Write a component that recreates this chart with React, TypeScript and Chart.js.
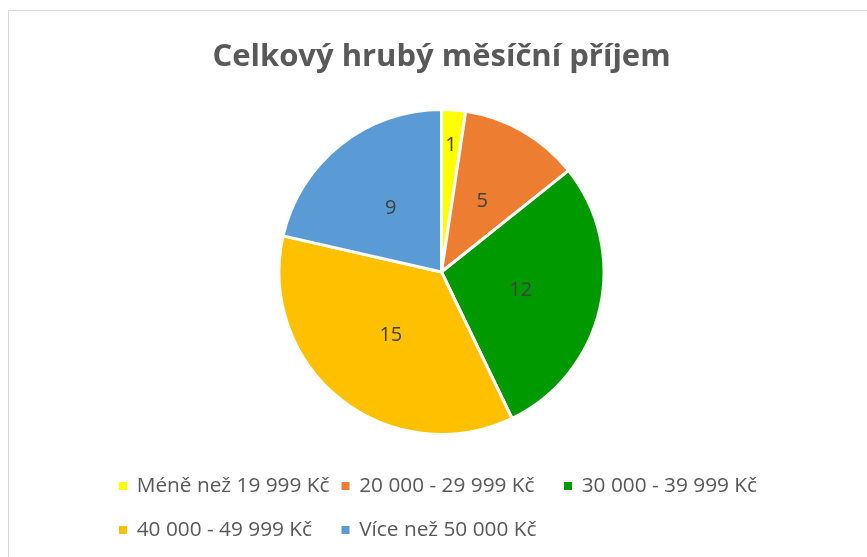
import React, { useEffect, useRef } from "react";
import { Chart, registerables } from "chart.js";

Chart.register(...registerables);

const chartTitle = "Celkový hrubý měsíční příjem";
const categories = [
  "Méně než 19 999 Kč",
  "20 000 - 29 999 Kč",
  "30 000 - 39 999 Kč",
  "40 000 - 49 999 Kč",
  "Více než 50 000 Kč",
];
const counts = [1, 5, 12, 15, 9];
const sliceColors = ["#FFFF00", "#ED7D31", "#009A00", "#FFC000", "#5B9BD5"];

const FONT = "'Open Sans', 'DejaVu Sans', sans-serif";

const sliceLabels = {
  id: "sliceLabels",
  afterDatasetsDraw(chart: any) {
    const ctx = chart.ctx;
    const meta = chart.getDatasetMeta(0);
    const values = chart.data.datasets[0].data;
    ctx.save();
    ctx.font = `20px ${FONT}`;
    ctx.fillStyle = "#404040";
    ctx.textAlign = "center";
    ctx.textBaseline = "middle";
    meta.data.forEach((arc: any, i: number) => {
      const p = arc.getProps(["x", "y", "startAngle", "endAngle", "outerRadius"], true);
      const span = p.endAngle - p.startAngle;
      const mid = (p.startAngle + p.endAngle) / 2;
      const frac = span < 0.3 ? 0.78 : 0.5;
      const r = p.outerRadius * frac;
      ctx.fillText(String(values[i]), p.x + Math.cos(mid) * r, p.y + Math.sin(mid) * r);
    });
    ctx.restore();
  },
};

const gridLegend = {
  id: "gridLegend",
  afterDraw(chart: any) {
    const ctx = chart.ctx;
    const labels = chart.data.labels as string[];
    const colors = chart.data.datasets[0].backgroundColor as string[];
    const cols = 3;
    const x0 = 110;
    const colW = 222.5;
    const y0 = 475;
    const rowH = 44;
    ctx.save();
    ctx.font = `20.8px ${FONT}`;
    ctx.textBaseline = "middle";
    ctx.textAlign = "left";
    labels.forEach((lab, i) => {
      const c = i % cols;
      const r = Math.floor(i / cols);
      const x = x0 + c * colW;
      const y = y0 + r * rowH;
      ctx.fillStyle = colors[i];
      ctx.fillRect(x, y - 4, 8, 8);
      ctx.fillStyle = "#595959";
      ctx.fillText(lab, x + 17.7, y);
    });
    ctx.restore();
  },
};

export default function App() {
  const ref = useRef<HTMLCanvasElement | null>(null);

  useEffect(() => {
    document.body.style.overflow = "hidden";
    if (!ref.current) return;
    const chart = new Chart(ref.current, {
      type: "pie",
      data: {
        labels: categories,
        datasets: [
          {
            data: counts,
            backgroundColor: sliceColors,
            borderColor: "#FFFFFF",
            borderWidth: 3,
          },
        ],
      },
      options: {
        animation: false,
        responsive: true,
        maintainAspectRatio: false,
        layout: { padding: { left: 7, right: 0, top: 0, bottom: 121 } },
        plugins: {
          legend: { display: false },
          tooltip: { enabled: false },
          title: {
            display: true,
            text: chartTitle,
            color: "#595959",
            font: { family: FONT, size: 31, weight: "bold" },
            padding: { top: 27.2, bottom: 32.6 },
          },
        },
      },
      plugins: [sliceLabels, gridLegend],
    });
    return () => chart.destroy();
  }, []);

  return (
    <div
      style={{
        position: "absolute",
        left: 8,
        top: 10,
        width: 859,
        height: 547,
        boxSizing: "border-box",
        borderLeft: "1px solid #D9D9D9",
        borderTop: "1px solid #D9D9D9",
        background: "#FFFFFF",
      }}
    >
      <div style={{ position: "relative", width: 858, height: 546 }}>
        <canvas ref={ref} />
      </div>
    </div>
  );
}
